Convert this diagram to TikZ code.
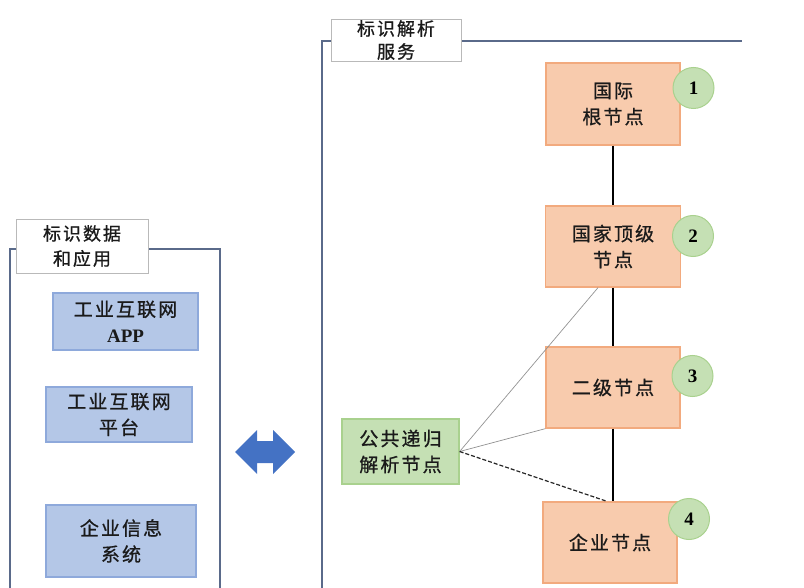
\documentclass[tikz,border=0pt]{standalone}
\usepackage{fontspec}
\setmainfont{Liberation Serif}
\newfontfamily\cjk[LetterSpace=11,FakeBold=0.8]{Noto Sans CJK SC}
\definecolor{orfill}{HTML}{F8CBAD}
\definecolor{orbd}{HTML}{F2AA7E}
\definecolor{bluefill}{HTML}{B4C7E7}
\definecolor{bluebd}{HTML}{8EA9DB}
\definecolor{greenfill}{HTML}{C5E0B4}
\definecolor{greenbd}{HTML}{A9D18E}
\definecolor{framec}{HTML}{5A6A8A}
\definecolor{arrowc}{HTML}{4472C4}
\definecolor{txt}{HTML}{1A1A1A}
\tikzset{
  frameline/.style={draw=framec, line width=1.4pt},
  titlebox/.style={draw=gray!55, fill=white, line width=0.8pt, inner sep=0pt, align=center, text=txt, font=\cjk\fontsize{18}{25}\selectfont},
  orbox/.style={draw=orbd, fill=orfill, line width=1.3pt, inner sep=2pt, align=center, text=txt, font=\cjk\fontsize{19}{26}\selectfont},
  bluebox/.style={draw=bluebd, fill=bluefill, line width=1.3pt, inner sep=2pt, align=center, text=txt, font=\cjk\fontsize{19}{26}\selectfont},
  greenbox/.style={draw=greenbd, fill=greenfill, line width=1.3pt, inner sep=2pt, align=center, text=txt, font=\cjk\fontsize{19}{26}\selectfont},
  numc/.style={circle, draw=greenbd, fill=greenfill, line width=1pt, minimum size=41pt, inner sep=0pt, font=\bfseries\fontsize{19}{19}\selectfont, text=black},
  vline/.style={draw=black, line width=1.5pt},
  thinline/.style={draw=gray!85, line width=0.7pt},
  dashline/.style={draw=black!85, line width=1.2pt, dash pattern=on 4pt off 2pt},
}
\begin{document}
\begin{tikzpicture}[x=1pt,y=-1pt]
\useasboundingbox (0,0) rectangle (804,588);

% frames
\draw[frameline] (10,588) -- (10,249) -- (220,249) -- (220,588);
\draw[frameline] (322,588) -- (322,41) -- (742,41);

% titles
\node[titlebox, minimum width=132pt, minimum height=54pt] (tl) at (82,246) {标识数据\\和应用};
\node[titlebox, minimum width=130pt, minimum height=42pt, font=\cjk\fontsize{18}{23}\selectfont] (tr) at (396,40) {标识解析\\服务};

% left boxes
\node[bluebox, minimum width=145pt, minimum height=57pt] (app) at (125.5,321.5) {工业互联网\\{\rmfamily\bfseries APP}};
\node[bluebox, minimum width=146pt, minimum height=55pt] (plat) at (119,414.5) {工业互联网\\平台};
\node[bluebox, minimum width=150pt, minimum height=72pt] (ent) at (121,541) {企业信息\\系统};

% double arrow
\fill[arrowc] (235,452) -- (257,430) -- (257,441) -- (273,441) -- (273,430) -- (295,452)
  -- (273,474) -- (273,463) -- (257,463) -- (257,474) -- cycle;

% right nodes
\node[orbox, minimum width=134pt, minimum height=82pt] (n1) at (613,104) {国际\\根节点};
\node[orbox, minimum width=135pt, minimum height=81pt] (n2) at (613,246.5) {国家顶级\\节点};
\node[orbox, minimum width=134pt, minimum height=81pt] (n3) at (613,387.5) {二级节点};
\node[orbox, minimum width=134pt, minimum height=81pt] (n4) at (610,542.5) {企业节点};
\node[greenbox, minimum width=117pt, minimum height=65pt] (pr) at (400.5,451.5) {公共递归\\解析节点};

% numbers
\node[numc] (c1) at (693.5,88) {1};
\node[numc] (c2) at (693,236) {2};
\node[numc] (c3) at (692.5,376) {3};
\node[numc] (c4) at (689,519) {4};

% connectors
\draw[vline] (n1.south) -- (n2.north);
\draw[vline] (n2.south) -- (n3.north);
\draw[vline] (n3.south) -- (n3.south |- n4.north);
\draw[thinline] (pr.east) -- ([xshift=-15pt]n2.south);
\draw[thinline] (pr.east) -- (n3.south west);
\draw[dashline] (pr.east) -- ([xshift=-3pt]n4.north);
\end{tikzpicture}
\end{document}
